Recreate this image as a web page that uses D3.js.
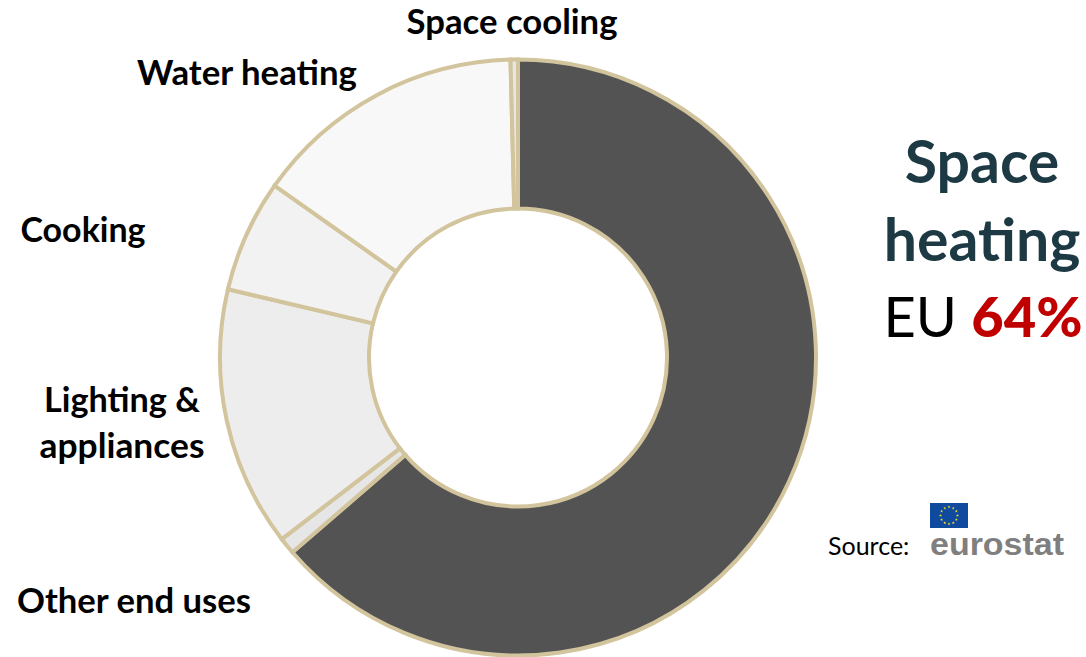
<!DOCTYPE html>
<html><head><meta charset="utf-8">
<script src="https://cdn.jsdelivr.net/npm/d3@7"></script>
<style>html,body{margin:0;padding:0;background:#fff}svg{display:block}text{font-family:Lato,"Noto Sans",sans-serif}</style>
</head><body><svg id="c" width="1086" height="657"></svg>
<script>
const categories=["Space heating","Other end uses","Lighting & appliances","Cooking","Water heating","Space cooling"];
const values=[63.6,0.9,14.1,6.1,14.8,0.4];
const colors=["#535353","#e6e6e6","#ededed","#f2f2f2","#f8f8f8","#e6e6e6"];
const labels=[
 {t:"Space cooling",x:512,y:34,w:211},
 {t:"Water heating",x:247,y:85,w:220},
 {t:"Cooking",x:83,y:242,w:125},
 {t:"Lighting &",x:122,y:412,w:156},
 {t:"appliances",x:122,y:458,w:165},
 {t:"Other end uses",x:134,y:613,w:234}];
const svg=d3.select("#c");
const g=svg.append("g").attr("transform","translate(518,357.5)");
const pie=d3.pie().sort(null).value(d=>d);
const arc=d3.arc().innerRadius(149).outerRadius(298);
g.selectAll("path").data(pie(values)).join("path").attr("d",arc)
 .attr("fill",(d,i)=>colors[i]).attr("stroke","#d2c49c").attr("stroke-width",4).attr("stroke-linejoin","miter");
svg.selectAll("text.l").data(labels).join("text").attr("class","l")
 .attr("x",d=>d.x).attr("y",d=>d.y).attr("text-anchor","middle")
 .attr("font-size",34).attr("font-weight",700).attr("fill","#000")
 .attr("textLength",d=>d.w).attr("lengthAdjust","spacingAndGlyphs").text(d=>d.t);
svg.append("text").attr("x",982).attr("y",183).attr("text-anchor","middle").attr("font-size",59).attr("font-weight",700).attr("fill","#1d3a44").text("Space");
svg.append("text").attr("x",982).attr("y",261).attr("text-anchor","middle").attr("font-size",59).attr("font-weight",700).attr("fill","#1d3a44").text("heating");
const eu=svg.append("text").attr("x",983).attr("y",337).attr("text-anchor","middle").attr("font-size",56);
eu.append("tspan").attr("fill","#000").text("EU ");
eu.append("tspan").attr("fill","#c00000").attr("font-weight",900).text("64%");
svg.append("text").attr("x",828).attr("y",555).attr("font-size",25).attr("fill","#000").text("Source:");
svg.append("rect").attr("x",930).attr("y",503).attr("width",38).attr("height",25).attr("fill","#0f4a9e");
const starAngles=d3.range(12).map(i=>i*30);
const cs=d3.symbol().type(d3.symbolStar).size(3);
svg.selectAll("path.s").data(starAngles).join("path").attr("class","s").attr("d",cs)
 .attr("fill","#f5e11c").attr("transform",a=>`translate(${949+8.5*Math.sin(a*Math.PI/180)},${515.5-8.5*Math.cos(a*Math.PI/180)})`);
svg.append("text").attr("x",930).attr("y",555).attr("font-size",32).attr("font-weight",700).attr("fill","#7f7f7f")
 .style("font-family","'Liberation Sans',sans-serif").attr("textLength",134).attr("lengthAdjust","spacingAndGlyphs").text("eurostat");
</script></body></html>
